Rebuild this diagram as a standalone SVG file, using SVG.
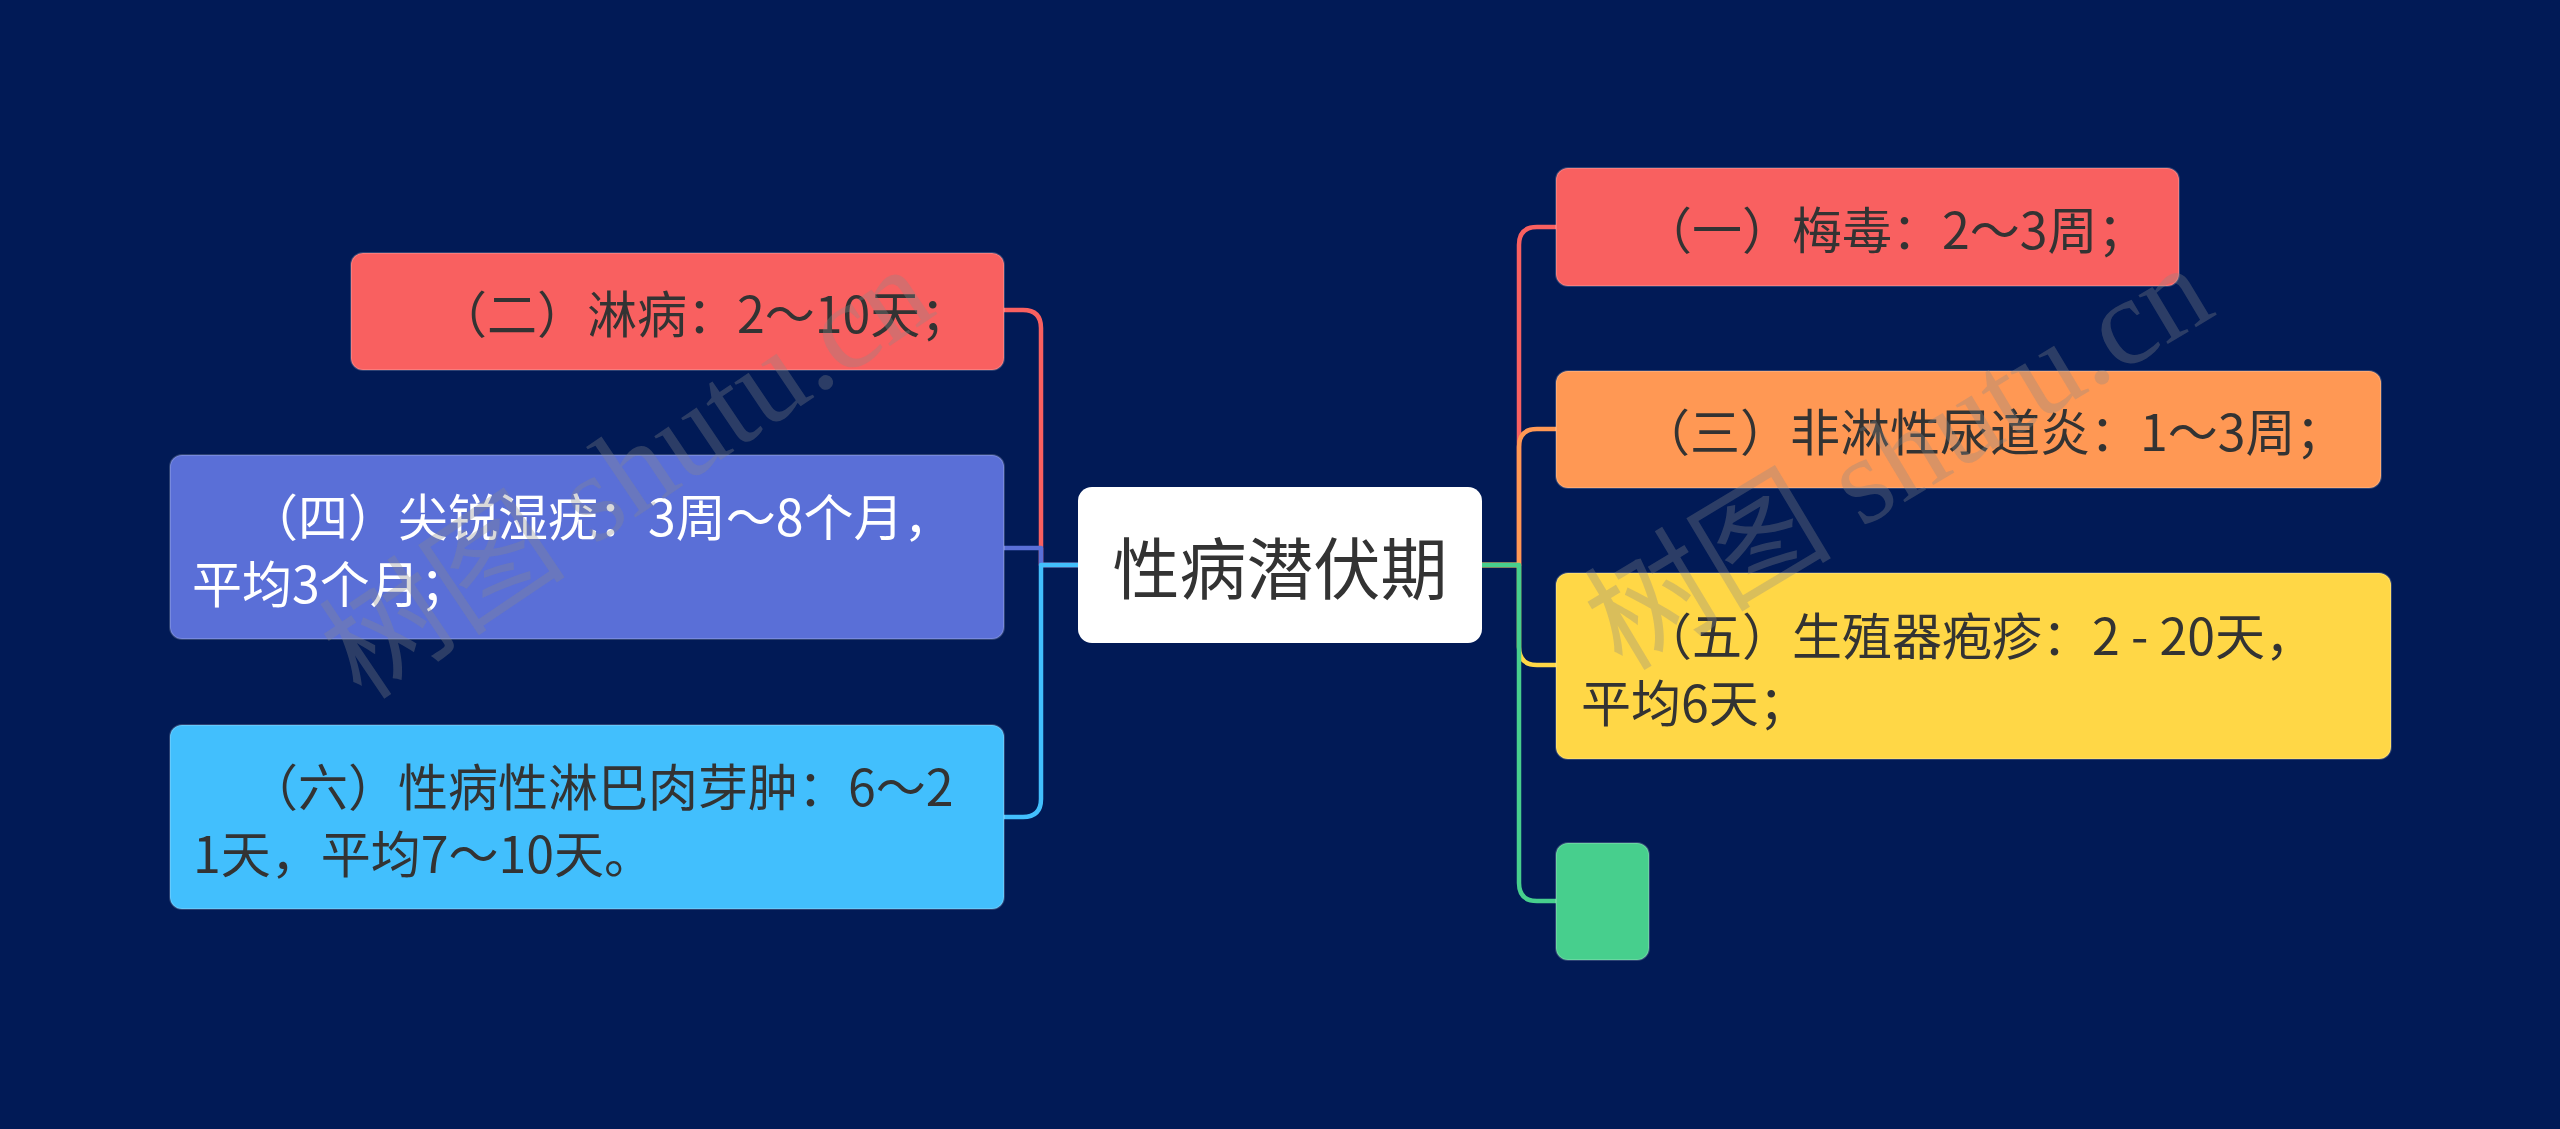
<svg xmlns="http://www.w3.org/2000/svg" width="2560" height="1129" viewBox="0 0 2560 1129">
<style>
.bg{fill:#011a56}
.node{stroke:#ffffff;stroke-opacity:0.18;stroke-width:2}
.t{font-family:"Noto Sans CJK SC","Noto Sans",sans-serif;font-size:50px;fill:#333333;dominant-baseline:central}
.tw{fill:#ffffff}
.main{font-family:"Noto Sans CJK SC","Noto Sans",sans-serif;font-size:67px;fill:#333333;dominant-baseline:central;text-anchor:middle}
.conn path{fill:none;stroke-width:4.5;stroke-linecap:butt;stroke-linejoin:round}
.wm{font-family:"Liberation Serif","Noto Sans CJK SC",serif;font-size:124px;fill:#8a8a8a;fill-opacity:0.32}
</style>
<rect class="bg" x="0" y="0" width="2560" height="1129"/>
<g class="conn" id="connectors">
<path stroke="#f96060" d="M1078,565 H1041 V328 Q1041,310 1023,310 H1004"/>
<path stroke="#5a6fd7" d="M1078,565 H1041 V548 H1004"/>
<path stroke="#42bffd" d="M1078,565 H1041 V799 Q1041,817 1023,817 H1004"/>
<path stroke="#f96060" d="M1482,565 H1519 V245 Q1519,227 1537,227 H1556"/>
<path stroke="#ff9854" d="M1482,565 H1519 V447 Q1519,429 1537,429 H1556"/>
<path stroke="#ffd746" d="M1482,565 H1519 V647 Q1519,665 1537,665 H1556"/>
<path stroke="#47cf8d" d="M1482,565 H1519 V883 Q1519,901 1537,901 H1556"/>
</g>
<g id="center">
<rect x="1078" y="487" width="404" height="156" rx="14" fill="#ffffff"/>
<text class="main" x="1280" y="564">性病潜伏期</text>
</g>
<g id="n1">
<rect class="node" x="1556" y="168" width="623" height="118" rx="12" fill="#f96060"/>
<text class="t" x="1642" y="227">（一）梅毒：2～3周；</text>
</g>
<g id="n2">
<rect class="node" x="351" y="253" width="653" height="117" rx="12" fill="#f96060"/>
<text class="t" x="437" y="311">（二）淋病：2～10天；</text>
</g>
<g id="n3">
<rect class="node" x="1556" y="371" width="825" height="117" rx="12" fill="#ff9854"/>
<text class="t" x="1640" y="429">（三）非淋性尿道炎：1～3周；</text>
</g>
<g id="n4">
<rect class="node" x="170" y="455" width="834" height="184" rx="12" fill="#5a6fd7"/>
<text class="t tw" x="248" y="513.5">（四）尖锐湿疣：3周～8个月，</text>
<text class="t tw" x="192" y="580.5">平均3个月；</text>
</g>
<g id="n5">
<rect class="node" x="1556" y="573" width="835" height="186" rx="12" fill="#ffd746"/>
<text class="t" x="1642" y="632.5">（五）生殖器疱疹：2 - 20天，</text>
<text class="t" x="1581" y="699.5">平均6天；</text>
</g>
<g id="n6">
<rect class="node" x="170" y="725" width="834" height="184" rx="12" fill="#42bffd"/>
<text class="t" x="248" y="783.5">（六）性病性淋巴肉芽肿：6～2</text>
<text class="t" x="193" y="850.5">1天，平均7～10天。</text>
</g>
<g id="n7">
<rect class="node" x="1556" y="843" width="93" height="117" rx="12" fill="#47cf8d"/>
</g>
<g id="watermark">
<text class="wm" transform="translate(362,702) rotate(-34)">树图 shutu.cn</text>
<text class="wm" transform="translate(1622,672) rotate(-31)">树图 shutu.cn</text>
</g>
</svg>
